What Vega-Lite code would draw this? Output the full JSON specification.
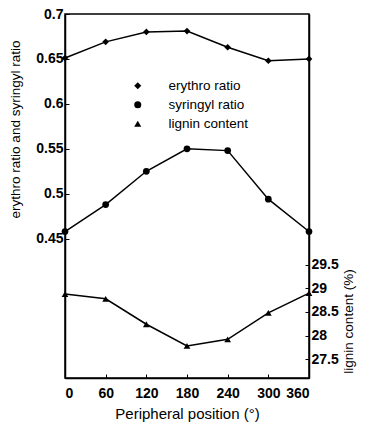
{
  "$schema": "https://vega.github.io/schema/vega-lite/v6.json",
  "width": 244,
  "height": 364,
  "autosize": {"type": "none"},
  "padding": {"left": 65, "top": 14, "right": 56, "bottom": 44},
  "background": "white",
  "config": {
    "view": {"stroke": "black", "strokeWidth": 1.5},
    "font": "Liberation Sans",
    "axis": {
      "grid": false,
      "domainColor": "black",
      "domainWidth": 1.5,
      "tickColor": "black",
      "tickSize": -4,
      "labelColor": "black",
      "titleColor": "black",
      "labelFontSize": 14,
      "labelFontWeight": "bold",
      "titleFontSize": 13.5,
      "titleFontWeight": "normal"
    }
  },
  "data": {
    "values": [
      {"pos": 0, "series": "erythro ratio", "value": 0.651},
      {"pos": 60, "series": "erythro ratio", "value": 0.669},
      {"pos": 120, "series": "erythro ratio", "value": 0.680},
      {"pos": 180, "series": "erythro ratio", "value": 0.681},
      {"pos": 240, "series": "erythro ratio", "value": 0.663},
      {"pos": 300, "series": "erythro ratio", "value": 0.648},
      {"pos": 360, "series": "erythro ratio", "value": 0.650},
      {"pos": 0, "series": "syringyl ratio", "value": 0.458},
      {"pos": 60, "series": "syringyl ratio", "value": 0.488},
      {"pos": 120, "series": "syringyl ratio", "value": 0.525},
      {"pos": 180, "series": "syringyl ratio", "value": 0.550},
      {"pos": 240, "series": "syringyl ratio", "value": 0.548},
      {"pos": 300, "series": "syringyl ratio", "value": 0.494},
      {"pos": 360, "series": "syringyl ratio", "value": 0.458},
      {"pos": 0, "series": "lignin content", "value": 28.88},
      {"pos": 60, "series": "lignin content", "value": 28.78},
      {"pos": 120, "series": "lignin content", "value": 28.24},
      {"pos": 180, "series": "lignin content", "value": 27.78},
      {"pos": 240, "series": "lignin content", "value": 27.92},
      {"pos": 300, "series": "lignin content", "value": 28.48},
      {"pos": 360, "series": "lignin content", "value": 28.90}
    ]
  },
  "encoding": {
    "x": {
      "field": "pos",
      "type": "quantitative",
      "scale": {"domain": [0, 360], "nice": false},
      "axis": {
        "values": [0, 60, 120, 180, 240, 300, 360],
        "title": "Peripheral position (°)",
        "titleFontSize": 15,
        "labelPadding": 12,
        "titlePadding": 6
      }
    }
  },
  "layer": [
    {
      "transform": [{"filter": "datum.series !== 'lignin content'"}],
      "encoding": {
        "y": {
          "field": "value",
          "type": "quantitative",
          "scale": {"domain": [0.295, 0.7], "nice": false, "zero": false},
          "axis": {
            "orient": "left",
            "values": [0.45, 0.5, 0.55, 0.6, 0.65, 0.7],
            "format": ".2~f",
            "title": "erythro ratio and syringyl ratio",
            "titleAngle": 270,
            "titleX": -50,
            "titleY": 115,
            "titleAlign": "center",
            "titleBaseline": "middle",
            "labelPadding": 6
          }
        }
      },
      "layer": [
        {
          "mark": {"type": "line", "color": "black", "strokeWidth": 1.5},
          "encoding": {"detail": {"field": "series"}}
        },
        {
          "mark": {"type": "point", "filled": true, "color": "black", "size": 45, "opacity": 1},
          "encoding": {
            "shape": {
              "field": "series",
              "type": "nominal",
              "scale": {"domain": ["erythro ratio", "syringyl ratio", "lignin content"], "range": ["diamond", "circle", "triangle-up"]},
              "legend": {
                "title": null,
                "orient": "none",
                "legendX": 66,
                "legendY": 65,
                "padding": 0,
                "labelFontSize": 13.5,
                "labelColor": "black",
                "symbolFillColor": "black",
                "symbolStrokeColor": "black",
                "symbolSize": 50,
                "labelOffset": 24,
                "rowPadding": 4
              }
            }
          }
        }
      ]
    },
    {
      "transform": [{"filter": "datum.series === 'lignin content'"}],
      "encoding": {
        "y": {
          "field": "value",
          "type": "quantitative",
          "scale": {"domain": [27.1, 34.82], "nice": false, "zero": false},
          "axis": {
            "orient": "right",
            "values": [27.5, 28, 28.5, 29, 29.5],
            "format": ".1~f",
            "title": "lignin content (%)",
            "titleAngle": 270,
            "titleX": 39,
            "titleY": 307,
            "titleAlign": "center",
            "titleBaseline": "middle",
            "labelPadding": 6
          }
        }
      },
      "layer": [
        {
          "mark": {"type": "line", "color": "black", "strokeWidth": 1.5},
          "encoding": {"detail": {"field": "series"}}
        },
        {
          "mark": {"type": "point", "filled": true, "color": "black", "size": 45, "opacity": 1},
          "encoding": {
            "shape": {
              "field": "series",
              "type": "nominal",
              "scale": {"domain": ["erythro ratio", "syringyl ratio", "lignin content"], "range": ["diamond", "circle", "triangle-up"]}
            }
          }
        }
      ]
    }
  ],
  "resolve": {"scale": {"y": "independent"}, "axis": {"y": "independent"}}
}
